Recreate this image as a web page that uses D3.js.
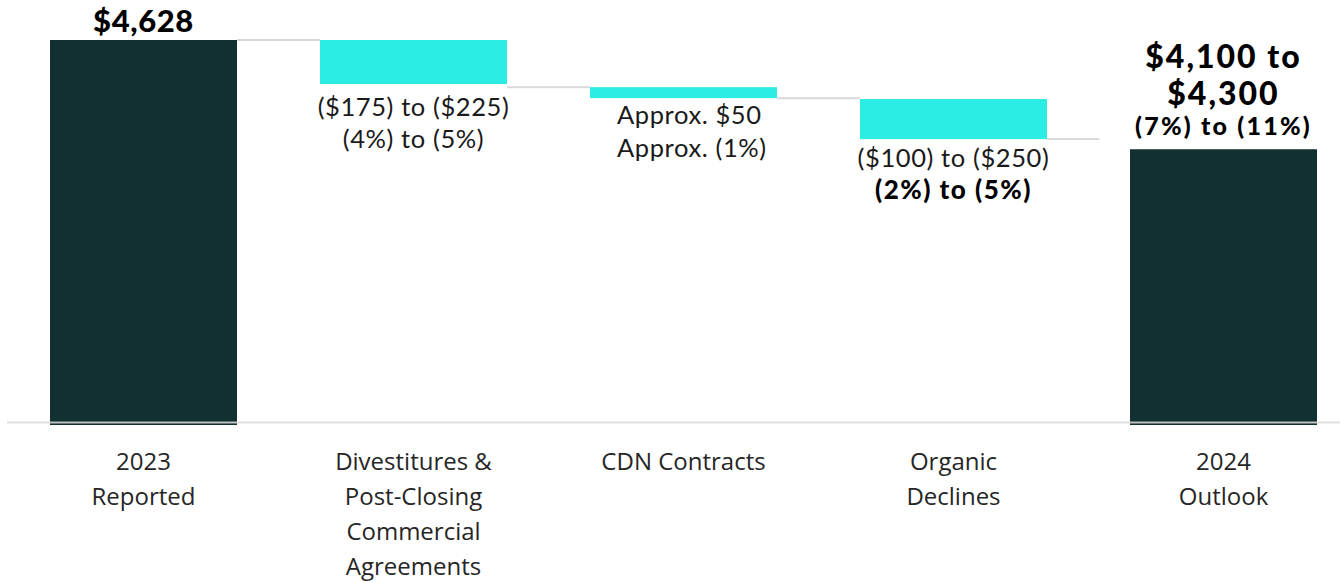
<!DOCTYPE html>
<html>
<head>
<meta charset="utf-8">
<script src="https://cdn.jsdelivr.net/npm/d3@7"></script>
<style>
  html, body { margin: 0; padding: 0; background: #fff; }
  svg { display: block; }
</style>
</head>
<body>
<div id="chart"></div>
<script>
// Waterfall: 2023 reported revenue to 2024 outlook ($M)
const categories = ["2023 Reported", "Divestitures & Post-Closing Commercial Agreements", "CDN Contracts", "Organic Declines", "2024 Outlook"];
const categoryLines = [
  ["2023", "Reported"],
  ["Divestitures &", "Post-Closing", "Commercial", "Agreements"],
  ["CDN Contracts"],
  ["Organic", "Declines"],
  ["2024", "Outlook"]
];
const kinds = ["total", "change", "change", "change", "total"];
// floating bar ranges as drawn (start -> end); totals start at the axis floor
const barStart = [null, 4628, 4414, 4360, null];
const barEnd = [4628, 4428, 4364, 4178, 4132];
// connector levels between neighbouring bars
const connectorLevels = [4628, 4414, 4364, 4178];
const axisFloor = 2880;

const valueLabels = [
  ["$4,628"],
  ["($175) to ($225)", "(4%) to (5%)"],
  ["Approx. $50", "Approx. (1%)"],
  ["($100) to ($250)", "(2%) to (5%)"],
  ["$4,100 to", "$4,300", "(7%) to (11%)"]
];
const valueBold = [
  [true],
  [false, false],
  [false, false],
  [false, true],
  [true, true, true]
];

const width = 1340, height = 582;
const darkColor = "#12302f";
const cyanColor = "#2cede4";
const lineColor = "#d9d9d9";

const svg = d3.select("#chart").append("svg")
    .attr("width", width)
    .attr("height", height);

const x = d3.scaleBand()
    .domain(categories)
    .range([50, 1317])
    .paddingInner(0.3074)
    .paddingOuter(0);

const y = d3.scaleLinear()
    .domain([axisFloor, 4628])
    .range([425, 40]);

const bars = categories.map((c, i) => ({
  cat: c,
  i,
  kind: kinds[i],
  from: barStart[i] == null ? axisFloor : barStart[i],
  to: barEnd[i]
}));

// connectors
svg.append("g")
  .selectAll("line")
  .data(connectorLevels)
  .join("line")
    .attr("x1", (d, i) => x(categories[i]) + x.bandwidth())
    .attr("x2", (d, i) => {
      const next = x(categories[i + 1]);
      const gap = next - (x(categories[i]) + x.bandwidth());
      return i === connectorLevels.length - 1 ? next - gap * 0.37 : next;
    })
    .attr("y1", d => y(d))
    .attr("y2", d => y(d))
    .attr("stroke", lineColor)
    .attr("stroke-width", 2);

// bars
svg.append("g")
  .selectAll("rect")
  .data(bars)
  .join("rect")
    .attr("x", d => x(d.cat))
    .attr("width", x.bandwidth())
    .attr("y", d => y(Math.max(d.from, d.to)))
    .attr("height", d => Math.abs(y(d.from) - y(d.to)))
    .attr("fill", d => d.kind === "total" ? darkColor : cyanColor);

// baseline
svg.append("line")
    .attr("x1", 7).attr("x2", width)
    .attr("y1", 422.5).attr("y2", 422.5)
    .attr("stroke", lineColor)
    .attr("stroke-opacity", 0.85)
    .attr("stroke-width", 2);

// category labels
const catG = svg.append("g")
    .attr("font-family", "'Open Sans', 'Noto Sans', sans-serif")
    .attr("font-size", 24)
    .attr("fill", "#262626")
    .attr("text-anchor", "middle");

categoryLines.forEach((lines, i) => {
  const cx = x(categories[i]) + x.bandwidth() / 2;
  const t = catG.append("text");
  lines.forEach((ln, j) => {
    t.append("tspan")
      .attr("x", cx)
      .attr("y", 460 + j * 35.3)
      .attr("dominant-baseline", "central")
      .text(ln);
  });
});

// value labels
const valG = svg.append("g")
    .attr("font-family", "Lato, 'Open Sans', sans-serif")
    .attr("fill", "#111");

// offsets (px) of each line centre from the bar edge it hangs on
const labelOffsets = [
  [-20],
  [22, 54],
  [16, 49],
  [18, 50],
  [-94, -57, -24]
];
const labelSizes = [
  [31],
  [25.5, 25.5],
  [25.5, 25.5],
  [25.5, 26],
  [32, 32, 25]
];
const labelSpacing = [
  [0.6],
  [0.6, 0.6],
  [0.6, 0.6],
  [0.6, 1.5],
  [2, 2, 2.2]
];

valueLabels.forEach((lines, i) => {
  const b = bars[i];
  const anchorY = b.kind === "total" ? y(b.to) : y(Math.min(b.from, b.to));
  const cx = x(b.cat) + x.bandwidth() / 2;
  const leftAligned = i === 2;
  lines.forEach((ln, j) => {
    valG.append("text")
      .attr("x", leftAligned ? x(b.cat) + 27 : cx)
      .attr("y", anchorY + labelOffsets[i][j])
      .attr("dominant-baseline", "central")
      .attr("text-anchor", leftAligned ? "start" : "middle")
      .attr("font-size", labelSizes[i][j])
      .attr("letter-spacing", labelSpacing[i][j])
      .attr("font-weight", valueBold[i][j] ? 900 : 400)
      .attr("fill", valueBold[i][j] ? "#000" : "#1a1a1a")
      .text(ln);
  });
});
</script>
</body>
</html>
